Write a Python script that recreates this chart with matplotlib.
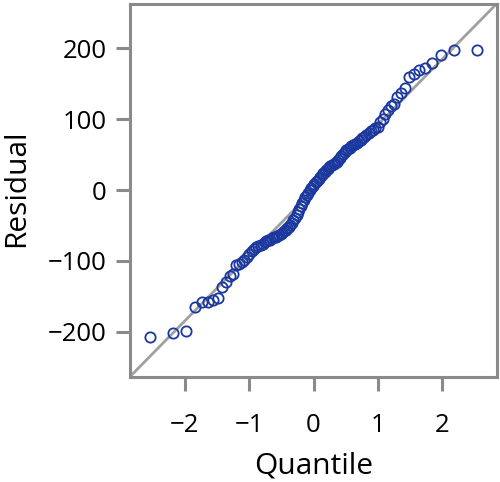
import matplotlib
matplotlib.use("Agg")
import matplotlib.pyplot as plt

# normal quantiles (x) and sorted residuals (y)
quantile = [
    -2.532, -2.177, -1.981, -1.840, -1.729, -1.635, -1.554, -1.482, -1.417, -1.357,
    -1.302, -1.251, -1.203, -1.157, -1.113, -1.072, -1.033, -0.995, -0.958, -0.923,
    -0.889, -0.856, -0.823, -0.792, -0.761, -0.731, -0.702, -0.673, -0.645, -0.617,
    -0.589, -0.563, -0.536, -0.510, -0.484, -0.459, -0.434, -0.409, -0.385, -0.360,
    -0.336, -0.312, -0.288, -0.264, -0.241, -0.218, -0.194, -0.171, -0.148, -0.125,
    -0.102, -0.080, -0.057, -0.034, -0.011, 0.011, 0.034, 0.057, 0.080, 0.102,
    0.125, 0.148, 0.171, 0.194, 0.218, 0.241, 0.264, 0.288, 0.312, 0.336,
    0.360, 0.385, 0.409, 0.434, 0.459, 0.484, 0.510, 0.536, 0.563, 0.589,
    0.617, 0.645, 0.673, 0.702, 0.731, 0.761, 0.792, 0.823, 0.856, 0.889,
    0.923, 0.958, 0.995, 1.033, 1.072, 1.113, 1.157, 1.203, 1.251, 1.302,
    1.357, 1.417, 1.482, 1.554, 1.635, 1.729, 1.840, 1.981, 2.177, 2.532,
]
residual = [
    -208, -202, -199, -165, -158, -158, -155, -153, -137, -130,
    -122, -118, -106, -104, -102, -99, -94, -90, -86, -83,
    -81, -79, -77, -76, -74, -72, -71, -70, -68, -67,
    -66, -65, -63, -62, -60, -58, -56, -54, -52, -49,
    -46, -43, -39, -35, -31, -27, -23, -18, -14, -10,
    -7, -4, 0, 3, 6, 9, 11, 13, 15, 18,
    21, 24, 26, 28, 30, 32, 34, 36, 37, 38,
    39, 42, 45, 48, 51, 54, 56, 58, 60, 62,
    63, 65, 67, 69, 71, 73, 75, 78, 80, 83,
    85, 87, 89, 96, 101, 108, 113, 119, 121, 131,
    137, 144, 160, 164, 169, 172, 180, 191, 198, 198,
]

x_ticks = [-2, -1, 0, 1, 2]
y_ticks = [-200, -100, 0, 100, 200]
x_lim = (-2.85, 2.85)
y_lim = (-264, 263)
ref_slope = 92.5

plt.rcParams["font.family"] = ["Open Sans", "DejaVu Sans"]
frame_gray = "#8a8a8a"

fig = plt.figure(figsize=(5.0, 4.82), dpi=100)
ax = fig.add_axes([0.26, 0.218, 0.734, 0.774])

ax.axline((0, 0), slope=ref_slope, color="#a0a0a0", lw=2.0, zorder=1)
ax.plot(quantile, residual, "o", ms=7.4, mfc="none", mec="#1b389f", mew=1.3, zorder=2)

ax.set_xlim(*x_lim)
ax.set_ylim(*y_lim)
ax.set_xticks(x_ticks)
ax.set_yticks(y_ticks)
ax.tick_params(direction="out", length=10, width=2.2, color=frame_gray,
               labelsize=18.5)
ax.tick_params(axis="x", pad=16)
ax.tick_params(axis="y", pad=7)
for s in ax.spines.values():
    s.set_color(frame_gray)
    s.set_linewidth(2.2)

ax.set_xlabel("Quantile", fontsize=21.5)
ax.set_ylabel("Residual", fontsize=21.5)
ax.xaxis.set_label_coords(0.5, -0.200)
ax.yaxis.set_label_coords(-0.27, 0.507)

fig.savefig("out.png", dpi=100)
